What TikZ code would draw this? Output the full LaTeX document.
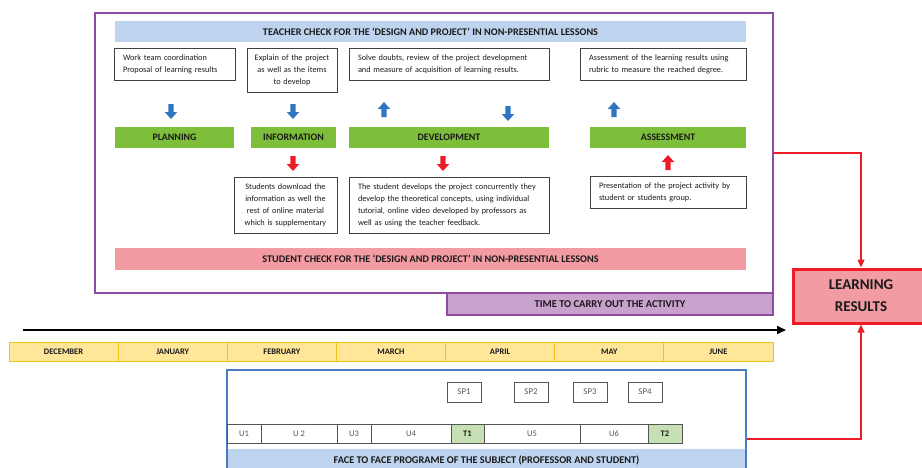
\documentclass[tikz,border=0pt]{standalone}
\usepackage{fontspec}
\setmainfont{Carlito}
\usetikzlibrary{arrows.meta,calc}
\definecolor{hdblue}{HTML}{BDD3EE}
\definecolor{grn}{HTML}{7DBE3A}
\definecolor{pnk}{HTML}{F29BA3}
\definecolor{prp}{HTML}{8E4BA6}
\definecolor{prpfill}{HTML}{C9A1CD}
\definecolor{rd}{HTML}{EE1C25}
\definecolor{mfill}{HTML}{FFE699}
\definecolor{mline}{HTML}{F5C21B}
\definecolor{fblue}{HTML}{4A7CC4}
\definecolor{tfill}{HTML}{C6E0B4}
\definecolor{arblue}{HTML}{2F75C0}
\definecolor{txtcol}{HTML}{1A1A1A}
\definecolor{boxgray}{HTML}{404040}
\definecolor{cellgray}{HTML}{555555}
\begin{document}
\begin{tikzpicture}[x=1pt,y=-1pt,
  txtbox/.style={draw=boxgray, line width=0.8pt, inner ysep=0pt, inner xsep=9pt, text=txtcol,
    font=\fontsize{8.3}{12}\selectfont},
  bar/.style={inner sep=0pt, text=txtcol, font=\bfseries\fontsize{10.2}{12}\selectfont},
  greenbar/.style={bar, fill=grn, minimum height=21pt, font=\bfseries\fontsize{9.9}{12}\selectfont},
  month/.style={draw=mline, fill=mfill, line width=0.9pt, inner sep=0pt, minimum width=109.14pt,
    minimum height=19pt, text=txtcol, font=\bfseries\fontsize{8.5}{10}\selectfont},
  spbox/.style={draw=cellgray, line width=0.8pt, fill=white, inner sep=0pt, minimum width=34pt,
    minimum height=20pt, text=cellgray, font=\fontsize{8.8}{10}\selectfont},
  ucell/.style={draw=cellgray, line width=0.8pt, fill=white, inner sep=0pt, minimum height=19pt,
    text=cellgray, font=\fontsize{8.5}{10}\selectfont},
  tcell/.style={ucell, fill=tfill, text=txtcol, font=\bfseries\fontsize{8.5}{10}\selectfont},
  conn/.style={draw=rd, line width=1.3pt, -{Triangle[length=8pt,width=7pt]}},
  darr/.pic={\fill (-2.6,0) -- (2.6,0) -- (2.6,8) -- (6.3,8) -- (0,15) -- (-6.3,8) -- (-2.6,8) -- cycle;},
  uarr/.pic={\fill (-2.6,0) -- (2.6,0) -- (2.6,-8) -- (6.3,-8) -- (0,-15) -- (-6.3,-8) -- (-2.6,-8) -- cycle;}
]
\useasboundingbox (0,0) rectangle (922,467);

% outer purple frame and time box
\node[draw=prp, line width=1.6pt, minimum width=678pt, minimum height=280pt, inner sep=0pt] (frame) at (434,153) {};
\node[draw=prp, fill=prpfill, line width=1.6pt, minimum width=326pt, minimum height=22pt, inner sep=0pt,
  text=txtcol, font=\bfseries\fontsize{10.5}{12}\selectfont] (time) at (610,304) {TIME TO CARRY OUT THE ACTIVITY};

% header bars
\node[bar, fill=hdblue, minimum width=631pt, minimum height=21pt] (teacher) at (430.5,31.5)
  {TEACHER CHECK FOR THE ‘DESIGN AND PROJECT’ IN NON-PRESENTIAL LESSONS};
\node[bar, fill=pnk, minimum width=631pt, minimum height=22pt] (student) at (430.5,259)
  {STUDENT CHECK FOR THE ‘DESIGN AND PROJECT’ IN NON-PRESENTIAL LESSONS};

% teacher boxes
\node[txtbox, text width=103pt, align=left, minimum height=32pt] (b1) at (174.5,64)
  {Work team coordination\\Proposal of learning results};
\node[txtbox, inner xsep=4pt, text width=82pt, align=center, minimum height=44pt] (b2) at (292,70)
  {Explain of the project\\as well as the items\\to develop};
\node[txtbox, text width=182pt, align=left, minimum height=32pt] (b3) at (449,64)
  {Solve doubts, review of the project development\\and measure of acquisition of learning results.};
\node[txtbox, text width=148pt, align=left, minimum height=32pt] (b4) at (663,64)
  {Assessment of the learning results using\\rubric to measure the reached degree.};

% phase bars
\node[greenbar, minimum width=119pt] (plan) at (174.5,137.5) {PLANNING};
\node[greenbar, minimum width=85pt] (info) at (293.5,137.5) {INFORMATION};
\node[greenbar, minimum width=200pt] (dev) at (449,137.5) {DEVELOPMENT};
\node[greenbar, minimum width=156pt] (assess) at (668,137.5) {ASSESSMENT};

% student boxes
\node[txtbox, inner xsep=4pt, text width=95pt, align=center, minimum height=56pt] (b5) at (285.5,205)
  {Students download the\\information as well the\\rest of online material\\which is supplementary};
\node[txtbox, text width=182pt, align=left, minimum height=56pt] (b6) at (449,205)
  {The student develops the project concurrently they\\develop the theoretical concepts, using individual\\tutorial, online video developed by professors as\\well as using the teacher feedback.};
\node[txtbox, text width=138pt, align=left, minimum height=32pt] (b7) at (668,192)
  {Presentation of the project activity by\\student or students group.};

% block arrows
\pic[color=arblue] at (171,104) {darr};
\pic[color=arblue] at (293,104) {darr};
\pic[color=arblue] at (384,117) {uarr};
\pic[color=arblue] at (508,106) {darr};
\pic[color=arblue] at (614,117) {uarr};
\pic[color=rd] at (293,156) {darr};
\pic[color=rd] at (443,156) {darr};
\pic[color=rd] at (668,170) {uarr};

% learning results
\node[draw=rd, fill=pnk, line width=3pt, minimum width=136pt, minimum height=54pt, inner sep=0pt,
  align=center, text=txtcol, font=\bfseries\fontsize{15}{22}\selectfont] (lr) at (861,296)
  {LEARNING\\RESULTS};

% timeline
\coordinate (tl1) at (23,330);
\coordinate (tl2) at (786,330);
\draw[line width=1.6pt, -{Triangle[length=9pt,width=8pt]}] (tl1) -- (tl2);

% months
\node[month] (m1) at (63.57,351.5) {DECEMBER};
\node[month] (m2) at (172.71,351.5) {JANUARY};
\node[month] (m3) at (281.85,351.5) {FEBRUARY};
\node[month] (m4) at (390.99,351.5) {MARCH};
\node[month] (m5) at (500.13,351.5) {APRIL};
\node[month] (m6) at (609.27,351.5) {MAY};
\node[month] (m7) at (718.41,351.5) {JUNE};

% face to face programme
\node[fill=hdblue, minimum width=519pt, minimum height=22pt, inner sep=0pt] (band) at (486.5,460) {};
\node[text=txtcol, font=\bfseries\fontsize{10.3}{12}\selectfont, inner sep=0pt] (bandtxt) at (486.5,460)
  {FACE TO FACE PROGRAME OF THE SUBJECT (PROFESSOR AND STUDENT)};
\node[draw=fblue, line width=1.4pt, minimum width=519pt, minimum height=101pt, inner sep=0pt] (face) at (486.5,420.5) {};

\node[spbox] (sp1) at (464,392) {SP1};
\node[spbox] (sp2) at (531,392) {SP2};
\node[spbox] (sp3) at (590,392) {SP3};
\node[spbox] (sp4) at (645,392) {SP4};

\node[ucell, minimum width=34pt] (u1) at (244,433.5) {U1};
\node[ucell, minimum width=76pt] (u2) at (299,433.5) {U 2};
\node[ucell, minimum width=34pt] (u3) at (354,433.5) {U3};
\node[ucell, minimum width=80pt] (u4) at (411,433.5) {U4};
\node[tcell, minimum width=33pt] (t1) at (467.5,433.5) {T1};
\node[ucell, minimum width=96pt] (u5) at (532,433.5) {U5};
\node[ucell, minimum width=68pt] (u6) at (614,433.5) {U6};
\node[tcell, minimum width=34pt] (t2) at (665,433.5) {T2};

% connectors to learning results
\draw[conn] (frame.east) -| (lr.north);
\draw[conn] ([yshift=-18.5pt]face.east) -| (lr.south);
\end{tikzpicture}
\end{document}
